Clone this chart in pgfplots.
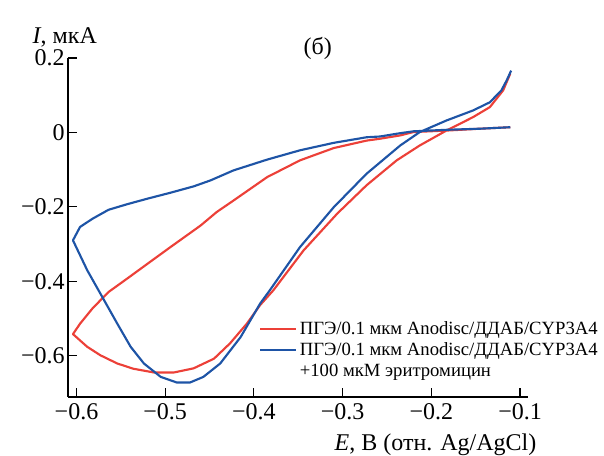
\documentclass[border=0pt]{standalone}
\usepackage{fontspec}
\setmainfont{Liberation Serif}
\usepackage{pgfplots}
\pgfplotsset{compat=1.18}

\definecolor{cvred}{RGB}{236,64,56}
\definecolor{cvblue}{RGB}{30,84,166}

\begin{document}
\begin{tikzpicture}
\useasboundingbox (-51pt,-44.25pt) rectangle (402pt,297.75pt);
\begin{axis}[
    scale only axis,
    width=345pt, height=254.25pt,
    xmin=-0.6096, xmax=-0.091,
    ymin=-0.711, ymax=0.2,
    axis x line=bottom, axis y line=left,
    axis line style={-, line width=0.8pt},
    tick align=inside,
    major tick length=6.5pt,
    tick style={line width=0.8pt, black},
    xtick={-0.6,-0.5,-0.4,-0.3,-0.2,-0.1},
    xticklabels={−0.6,−0.5,−0.4,−0.3,−0.2,−0.1},
    ytick={-0.6,-0.4,-0.2,0,0.2},
    yticklabels={−0.6,−0.4,−0.2,0,0.2},
    tick label style={font=\fontsize{18}{20}\selectfont},
    yticklabel style={xshift=1pt},
    xticklabel style={yshift=-1pt},
    clip=false,
    legend style={draw=none, fill=none, at={(rel axis cs:0.415,0.23)}, anchor=north west,
        font=\fontsize{14}{15.5}\selectfont, inner sep=0pt,
        cells={anchor=west}, row sep=0.5pt},
    legend image post style={line width=1.5pt},
    legend image code/.code={\draw[#1] (0pt,0pt) -- (27pt,0pt);},
]
\addplot[color=cvred, line width=1.6pt, line join=round] coordinates {
(-0.111,0.014)(-0.145,0.010)(-0.183,0.005)(-0.220,0.001)(-0.235,-0.008)
(-0.258,-0.017)(-0.273,-0.022)(-0.310,-0.042)(-0.348,-0.075)(-0.385,-0.120)
(-0.423,-0.183)(-0.442,-0.214)(-0.460,-0.250)(-0.494,-0.308)(-0.520,-0.353)
(-0.543,-0.393)(-0.564,-0.429)(-0.582,-0.473)(-0.596,-0.514)(-0.604,-0.542)
(-0.588,-0.576)(-0.573,-0.599)(-0.554,-0.621)(-0.536,-0.635)(-0.513,-0.645)
(-0.490,-0.645)(-0.468,-0.634)(-0.445,-0.608)(-0.427,-0.567)(-0.408,-0.514)
(-0.393,-0.464)(-0.378,-0.424)(-0.344,-0.317)(-0.306,-0.218)(-0.273,-0.142)
(-0.239,-0.075)(-0.213,-0.035)(-0.183,0.005)(-0.153,0.041)(-0.134,0.068)
(-0.119,0.113)(-0.111,0.158)
};
\addlegendentry{ПГЭ/0.1 мкм Anodisc/ДДАБ/CYP3A4}
\addplot[color=cvblue, line width=1.6pt, line join=round] coordinates {
(-0.111,0.014)(-0.145,0.010)(-0.183,0.007)(-0.220,0.003)(-0.235,-0.002)
(-0.258,-0.011)(-0.273,-0.013)(-0.310,-0.028)(-0.348,-0.048)(-0.385,-0.073)
(-0.423,-0.102)(-0.449,-0.129)(-0.468,-0.145)(-0.494,-0.162)(-0.520,-0.178)
(-0.543,-0.193)(-0.564,-0.208)(-0.582,-0.232)(-0.596,-0.254)(-0.604,-0.290)
(-0.588,-0.370)(-0.571,-0.442)(-0.554,-0.514)(-0.539,-0.576)(-0.524,-0.621)
(-0.505,-0.657)(-0.487,-0.672)(-0.472,-0.672)(-0.457,-0.657)(-0.438,-0.621)
(-0.415,-0.550)(-0.393,-0.460)(-0.382,-0.424)(-0.348,-0.308)(-0.310,-0.201)
(-0.273,-0.111)(-0.235,-0.035)(-0.213,0.001)(-0.183,0.032)(-0.153,0.059)
(-0.134,0.081)(-0.121,0.113)(-0.115,0.140)(-0.110,0.166)
};
\addlegendentry{ПГЭ/0.1 мкм Anodisc/ДДАБ/CYP3A4}
\addlegendimage{empty legend}
\addlegendentry{+100 мкМ эритромицин}
\node[anchor=center, font=\fontsize{18}{20}\selectfont] at (rel axis cs:-0.007,1.06) {\textit{I}, мкА};
\node[anchor=center, font=\fontsize{18}{20}\selectfont] at (rel axis cs:0.543,1.028) {(б)};
\node[anchor=center, font=\fontsize{18}{20}\selectfont] at ([yshift=-35.5pt]rel axis cs:0.799,0) {\textit{E}, В (отн. Ag/AgCl)};
\end{axis}
\end{tikzpicture}
\end{document}
